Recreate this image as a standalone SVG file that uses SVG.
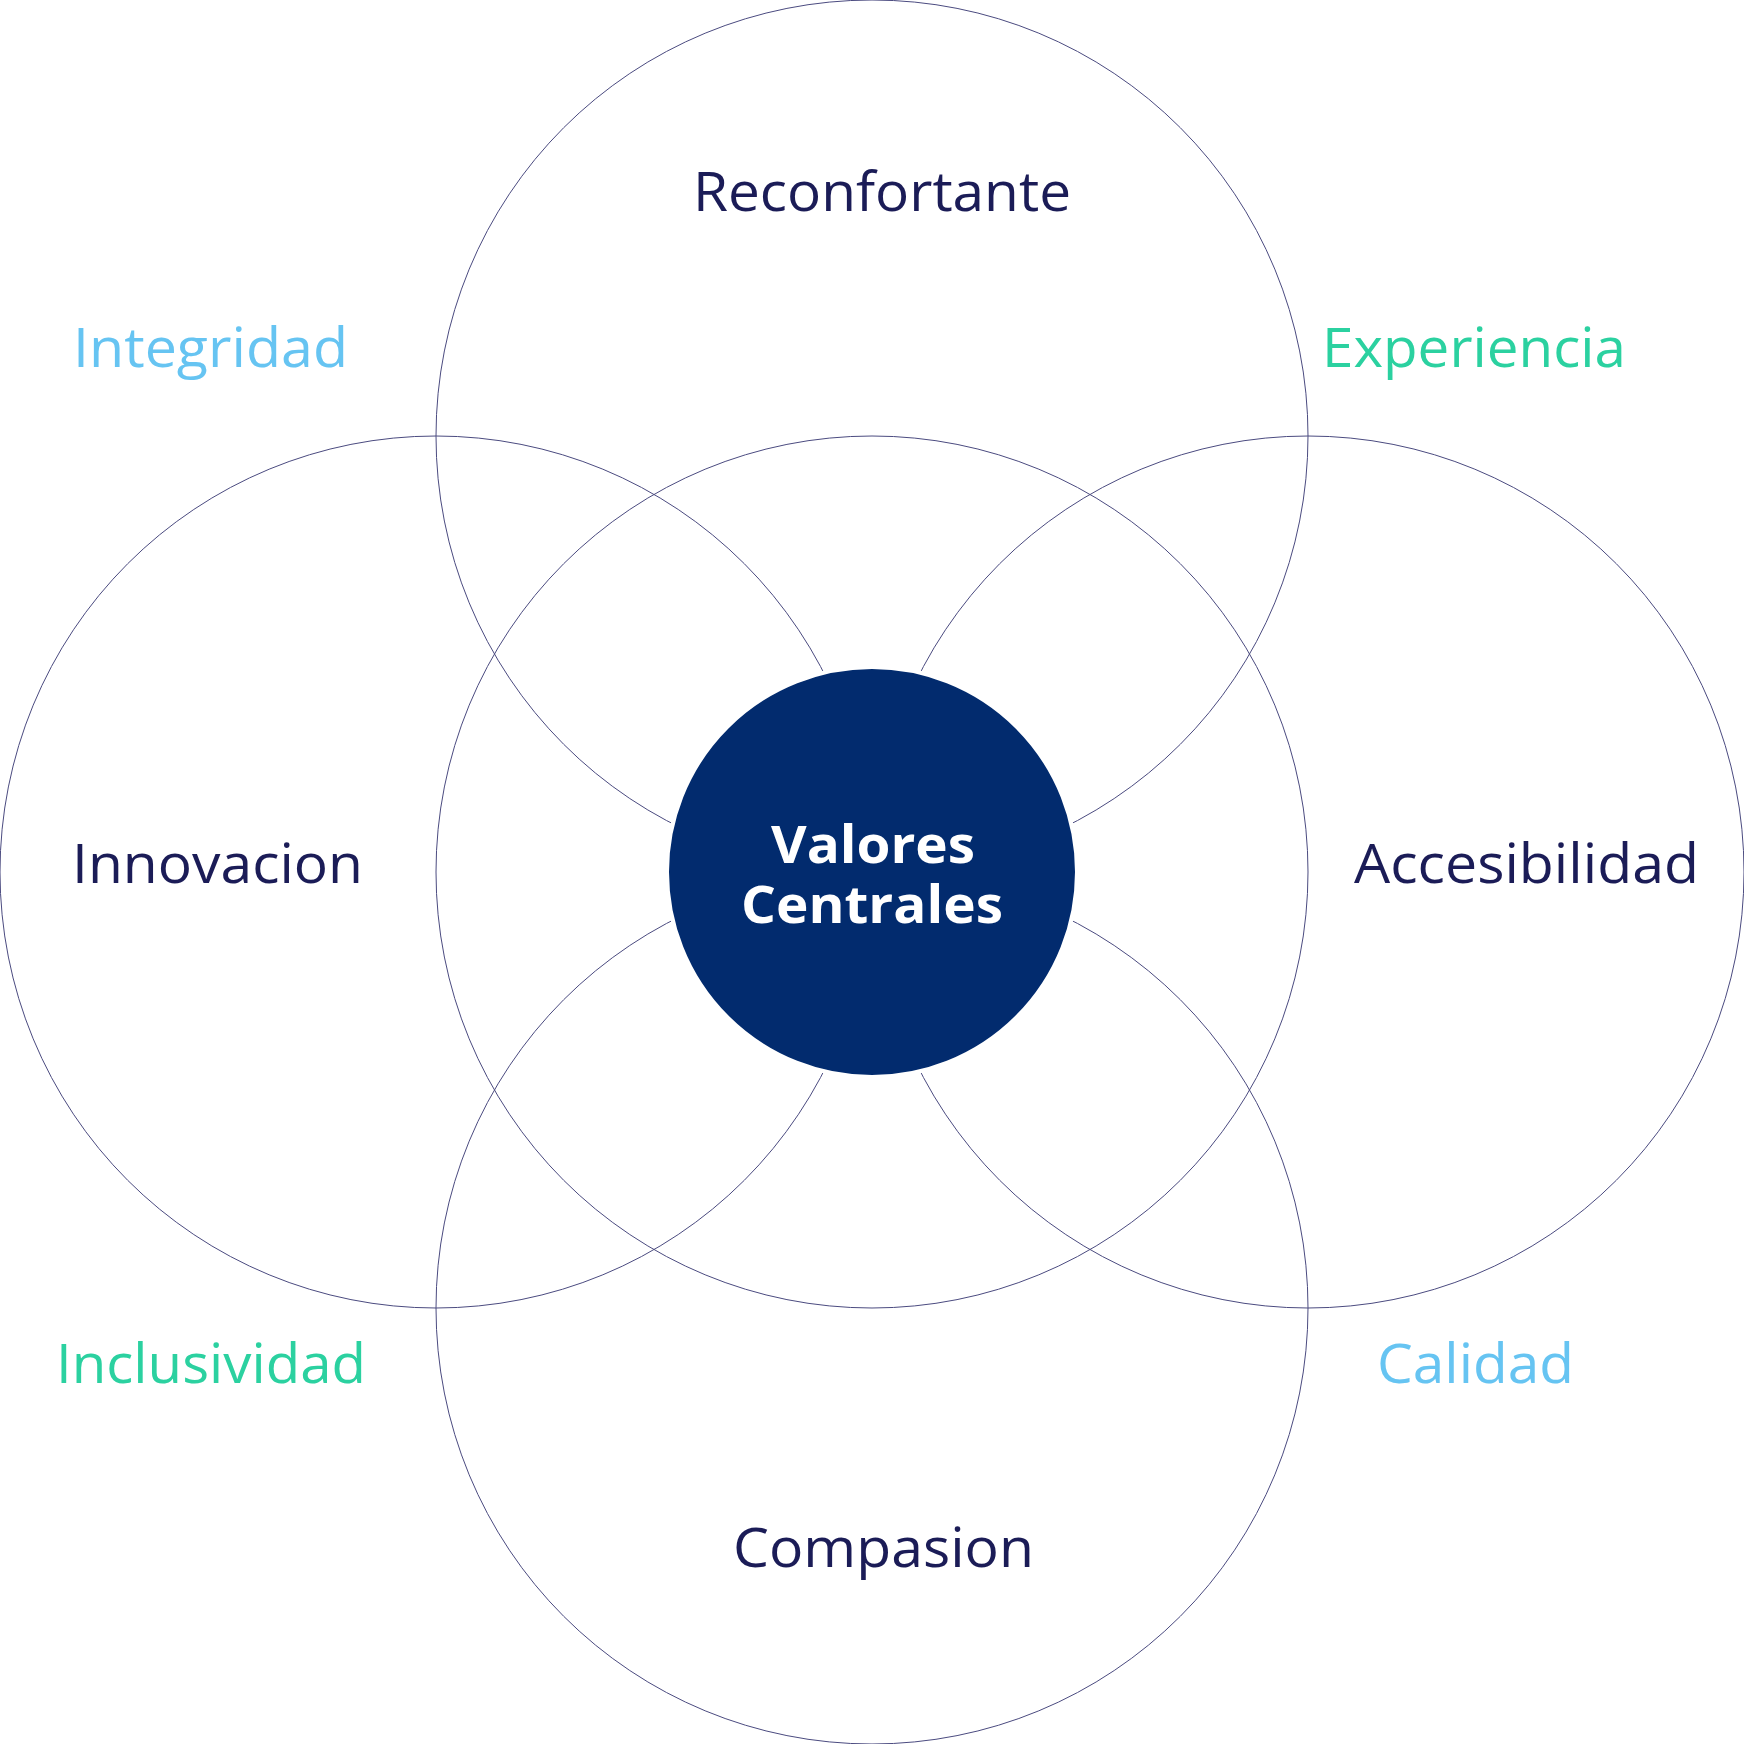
<svg xmlns="http://www.w3.org/2000/svg" width="1744" height="1744" viewBox="0 0 1744 1744">
<style>
.ring{fill:none;stroke:#4b4b80;stroke-width:1}
.lbl{font-family:"Open Sans","Liberation Sans",sans-serif;font-size:54px;font-weight:400}
.navy{fill:#1b1c57}
.blue{fill:#66c4f2}
.green{fill:#2bd1a0}
.core{font-family:"Open Sans","Liberation Sans",sans-serif;font-size:52px;font-weight:700;fill:#ffffff}
</style>
<rect width="1744" height="1744" fill="#ffffff"/>
<g id="connectors">
<circle class="ring" cx="872" cy="436" r="436"/>
<circle class="ring" cx="436" cy="872" r="436"/>
<circle class="ring" cx="1308" cy="872" r="436"/>
<circle class="ring" cx="872" cy="1308" r="436"/>
<circle class="ring" cx="872" cy="872" r="436"/>
</g>
<g id="center">
<circle cx="872" cy="872" r="205" fill="#022b6e" stroke="#ffffff" stroke-width="4"/>
<text class="core" x="771" y="863" textLength="204" lengthAdjust="spacingAndGlyphs">Valores</text>
<text class="core" x="741" y="923" textLength="262" lengthAdjust="spacingAndGlyphs">Centrales</text>
</g>
<g id="reconfortante"><text class="lbl navy" x="693" y="211" textLength="378" lengthAdjust="spacingAndGlyphs">Reconfortante</text></g>
<g id="integridad"><text class="lbl blue" x="73" y="367" textLength="275" lengthAdjust="spacingAndGlyphs">Integridad</text></g>
<g id="experiencia"><text class="lbl green" x="1322" y="367" textLength="304" lengthAdjust="spacingAndGlyphs">Experiencia</text></g>
<g id="innovacion"><text class="lbl navy" x="72" y="883" textLength="291" lengthAdjust="spacingAndGlyphs">Innovacion</text></g>
<g id="accesibilidad"><text class="lbl navy" x="1354" y="883" textLength="345" lengthAdjust="spacingAndGlyphs">Accesibilidad</text></g>
<g id="inclusividad"><text class="lbl green" x="56" y="1383" textLength="310" lengthAdjust="spacingAndGlyphs">Inclusividad</text></g>
<g id="calidad"><text class="lbl blue" x="1377" y="1383" textLength="197" lengthAdjust="spacingAndGlyphs">Calidad</text></g>
<g id="compasion"><text class="lbl navy" x="733" y="1567" textLength="301" lengthAdjust="spacingAndGlyphs">Compasion</text></g>
</svg>
